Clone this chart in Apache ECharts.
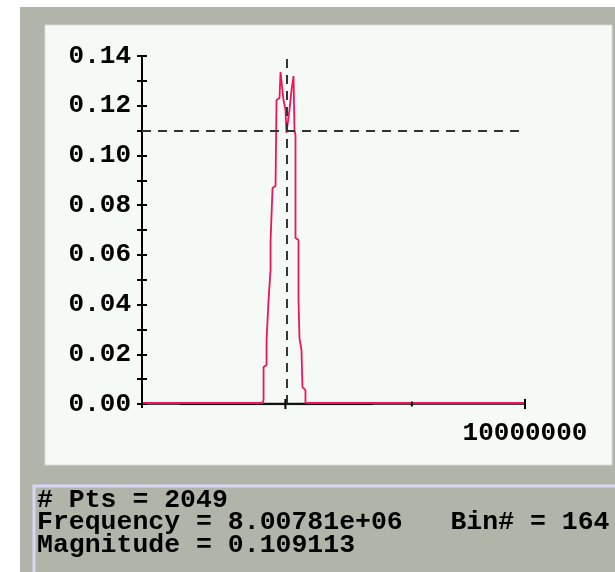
<!DOCTYPE html>
<html>
<head>
<meta charset="utf-8">
<script src="https://cdn.jsdelivr.net/npm/echarts@6/dist/echarts.min.js"></script>
<style>
html,body{margin:0;padding:0;background:#ffffff;}
#chart{width:615px;height:572px;}
</style>
</head>
<body>
<div id="chart"></div>
<script>
// Spectrum trace (frequency in Hz, magnitude)
var freqHz = [7.0e6, 7.8317e6, 7.839e6, 7.839e6, 7.8609e6, 7.8609e6, 7.8755e6, 7.8901e6, 7.8901e6,
  7.9048e6, 7.9048e6, 7.9269e6, 7.9342e6, 7.9564e6, 7.9638e6, 7.9786e6, 7.9860e6, 8.0009e6,
  8.00781e6, 8.0307e6, 8.0457e6, 8.0607e6, 8.0681e6, 8.0681e6, 8.0756e6, 8.0756e6, 8.0982e6,
  8.0982e6, 8.1057e6, 8.1208e6, 8.1283e6, 8.1510e6, 8.1510e6, 1.0e7];
var magnitude = [0.0004, 0.0004, 0.0016, 0.0149, 0.0157, 0.0257, 0.0418, 0.0539, 0.0652,
  0.0660, 0.0869, 0.0877, 0.1223, 0.1231, 0.1335, 0.1335, 0.1223, 0.1183,
  0.109113, 0.1183, 0.1263, 0.1319, 0.1319, 0.1102, 0.1082, 0.0668, 0.0660,
  0.0418, 0.0265, 0.0217, 0.0068, 0.0056, 0.0004, 0.0004];
// Dark baseline segment
var baseFreq = [7.2515e6, 8.676e6];
var baseMag = [0, 0];
// Cursor
var cursorFreq = 8.00781e6;
var cursorMag = 0.109113;
// x-axis tick positions (Hz)
var xTickFreqs = [7e6, 8e6, 9e6, 1e7];
var xTickSizes = [8, 10, 5, 10];
// Readout lines
var infoLines = ['# Pts = 2049', 'Frequency = 8.00781e+06   Bin# = 164', 'Magnitude = 0.109113'];

var trace = freqHz.map(function (f, i) { return [f, magnitude[i]]; });
var base = baseFreq.map(function (f, i) { return [f, baseMag[i]]; });

var gray = '#b1b4a9';
var labelFont = 'Liberation Mono';

var graphics = [
  { type: 'rect', z: -10, shape: { x: 20, y: 7, width: 600, height: 570 }, style: { fill: gray } },
  { type: 'rect', z: -9, shape: { x: 45, y: 25, width: 567, height: 440 }, style: { fill: '#f6faf6', stroke: '#d9ddd4', lineWidth: 1 } },
  { type: 'rect', z: -9, shape: { x: 34, y: 486, width: 600, height: 100 }, style: { fill: gray, stroke: '#d6d6f6', lineWidth: 3 } }
];
infoLines.forEach(function (t, i) {
  graphics.push({
    type: 'text', z: 5,
    style: { text: t, x: 37, y: 500 + i * 22.5, fill: '#000', verticalAlign: 'middle',
      font: 'bold 26.5px "Liberation Mono", "DejaVu Sans Mono", monospace' }
  });
});

var chart = echarts.init(document.getElementById('chart'));
chart.setOption({
  animation: false,
  backgroundColor: '#ffffff',
  graphic: graphics,
  grid: { left: 142, right: 90, top: 56, bottom: 168 },
  xAxis: {
    type: 'log', logBase: 10, min: 7e6, max: 1e7,
    axisLine: { show: true, onZero: false, lineStyle: { color: '#000', width: 1.5 } },
    axisTick: { show: false },
    splitLine: { show: false },
    minorTick: { show: false },
    axisLabel: {
      margin: 16, color: '#000', fontFamily: labelFont, fontWeight: 'bold', fontSize: 26,
      showMinLabel: false,
      formatter: function (v) { return Math.abs(v - 1e7) < 10 ? '10000000' : ''; }
    }
  },
  yAxis: [{
    type: 'value', min: 0, max: 0.14, interval: 0.01,
    axisLine: { show: true, lineStyle: { color: '#000', width: 2 } },
    axisTick: { show: true, length: 5, lineStyle: { color: '#000', width: 2 } },
    splitLine: { show: false },
    axisLabel: {
      margin: 11, color: '#000', fontFamily: labelFont, fontWeight: 'bold', fontSize: 26,
      formatter: function (v) { return Math.round(v * 100) % 2 === 0 ? v.toFixed(2) : ''; }
    }
  }, {
    type: 'value', min: 0, max: 0.14, interval: 0.01, position: 'left',
    axisLine: { show: false },
    axisTick: { show: true, inside: true, length: 5, lineStyle: { color: '#000', width: 2 } },
    splitLine: { show: false },
    axisLabel: { show: false }
  }],
  series: [{
    type: 'line', data: base, yAxisIndex: 0, showSymbol: false, symbol: 'none', silent: true,
    lineStyle: { color: '#111', width: 2.5 }, z: 2,
    markPoint: {
      symbol: 'rect', silent: true, label: { show: false },
      itemStyle: { color: '#000' },
      data: xTickFreqs.map(function (f, i) { return { coord: [f, 0], symbolSize: [2, xTickSizes[i]] }; })
    }
  }, {
    type: 'line', data: trace, yAxisIndex: 0, showSymbol: false, symbol: 'none', silent: true,
    lineStyle: { color: '#f0145a', width: 1.8 }, z: 3,
    markLine: {
      silent: true, symbol: 'none', label: { show: false },
      lineStyle: { color: '#333', type: [9, 7], width: 2 },
      data: [{ xAxis: cursorFreq }, { yAxis: cursorMag }]
    }
  }]
});
</script>
</body>
</html>
